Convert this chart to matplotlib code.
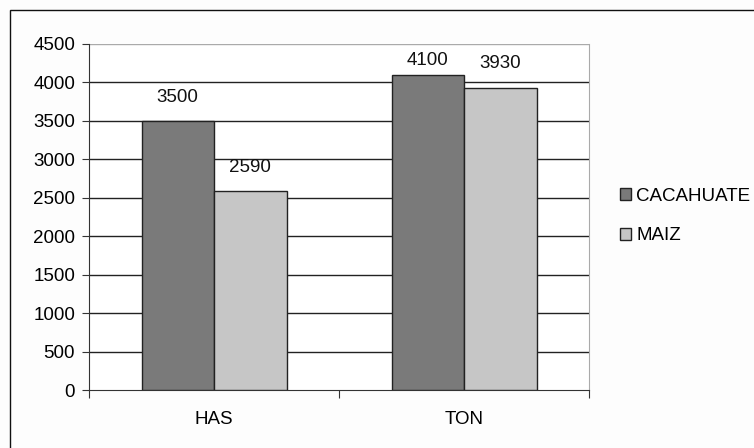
import matplotlib.pyplot as plt
import matplotlib.patches as patches
import numpy as np

categorias = ["HAS", "TON"]
series = ["CACAHUATE", "MAIZ"]
cacahuate = [3500, 4100]
maiz = [2590, 3930]
yticks = [0, 500, 1000, 1500, 2000, 2500, 3000, 3500, 4000, 4500]

plt.rcParams['font.family'] = ['Liberation Sans', 'DejaVu Sans']
fs = 13.5

fig = plt.figure(figsize=(7.54, 4.48), dpi=100)
fig.patch.set_facecolor("#fdfdfd")
ax = fig.add_axes([89/754, 1 - 390/448, 500/754, 346/448])
ax.set_facecolor("white")

# marco exterior del grafico
fig.patches.append(patches.Rectangle((10/754, -0.05), 1.1, 1 - 10/448 + 0.05,
                                     transform=fig.transFigure, fill=False,
                                     edgecolor="#111111", linewidth=1.0))

x = np.arange(len(categorias))
w = 0.29
colores = ["#7a7a7a", "#c6c6c6"]
for i, (vals, nombre) in enumerate(zip([cacahuate, maiz], series)):
    pos = x + (i - 0.5) * w
    ax.bar(pos, vals, width=w, color=colores[i], edgecolor="#222222",
           linewidth=1.0, label=nombre, zorder=3)
    for px, v in zip(pos, vals):
        ax.text(px, min(v + 310, 4280), str(v), ha="center", va="center",
                fontsize=fs, color="#111111", zorder=4)

ax.set_xlim(-0.5, 1.5)
ax.set_ylim(0, 4500)
ax.set_yticks(yticks)
for t in yticks[1:-1]:
    ax.axhline(t, color="#222222", linewidth=1.0, zorder=1)
ax.axhline(4500, color="#aaaaaa", linewidth=1.0, zorder=1)

ax.set_xticks([-0.5, 0.5, 1.5])
ax.set_xticklabels([])
ax.set_xticks(x, minor=True)
ax.set_xticklabels(categorias, minor=True)
ax.tick_params(axis="x", which="major", length=6, color="#333333", direction="out")
ax.tick_params(axis="x", which="minor", length=0, pad=15, labelsize=fs)
ax.tick_params(axis="y", length=5, color="#333333", pad=5, labelsize=fs)

for s in ["left", "bottom"]:
    ax.spines[s].set_color("#333333")
ax.spines["top"].set_visible(False)
ax.spines["right"].set_color("#aaaaaa")

leg = ax.legend(loc="center left", bbox_to_anchor=(612/754, 1 - 216/448),
                bbox_transform=fig.transFigure, frameon=False, fontsize=fs,
                handlelength=0.6, handleheight=0.6, handletextpad=0.3,
                labelspacing=1.2, borderaxespad=0)
for h in leg.legend_handles:
    h.set_edgecolor("#222222")

fig.savefig("out.png", dpi=100, facecolor=fig.get_facecolor())
